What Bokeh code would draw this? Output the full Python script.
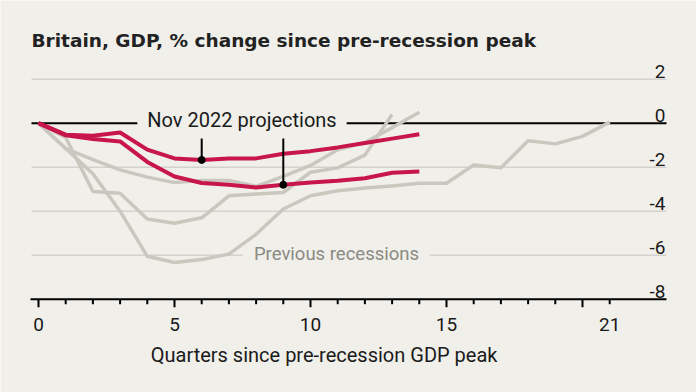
from bokeh.plotting import figure
from bokeh.models import Range1d, Label, ColumnDataSource
from bokeh.core.properties import value
from bokeh.embed import file_html
from bokeh.resources import INLINE

# ---- data ----
# Nov 2022 projections (two scenarios), quarters 0..14
proj_upper = [0, -0.52, -0.57, -0.42, -1.2, -1.6, -1.67, -1.6, -1.6, -1.39, -1.27, -1.1, -0.9, -0.7, -0.5]
proj_lower = [0, -0.55, -0.72, -0.83, -1.76, -2.42, -2.72, -2.8, -2.92, -2.8, -2.7, -2.62, -2.5, -2.25, -2.2]
# Previous recessions
rec_a = [0, -1.15, -2.3, -4.0, -6.05, -6.33, -6.2, -5.95, -5.05, -3.9, -3.3, -3.07,
         -2.95, -2.85, -2.73, -2.73, -1.9, -2.03, -0.8, -0.94, -0.6, 0.05]
rec_b = [0, -0.65, -3.1, -3.18, -4.35, -4.55, -4.3, -3.3, -3.22, -3.15, -2.23, -2.03, -1.45, 0.4]
rec_c = [0, -1.15, -1.66, -2.12, -2.45, -2.7, -2.6, -2.6, -2.87, -2.42, -1.92, -1.21, -0.88, -0.2, 0.5]

quarters = list(range(0, 22))
xtick_vals = [0, 5, 10, 15, 21]
xtick_labels = ["0", "5", "10", "15", "21"]
ytick_vals = [2, 0, -2, -4, -6, -8]
ytick_labels = ["2", "0", "-2", "-4", "-6", "-8"]
grid_vals = [2, -2, -4, -6]
y_floor = -8
marked = [(6, "upper"), (9, "lower")]

title_text = "Britain, GDP, % change since pre-recession peak"
xaxis_title = "Quarters since pre-recession GDP peak"
proj_label = "Nov 2022 projections"
rec_label = "Previous recessions"

# ---- style / layout ----
BG = "#f0efea"
RED = "#c8164a"
GREY = "#cac8be"
GRID = "#d3d2cd"
INK = "#1a1a1a"
FONT = "Roboto"
W, H = 696, 392
PX_X = 27.2   # pixels per quarter
PX_Y = 22.0   # pixels per percentage point
X0_PX = 38.0  # pixel of quarter 0
Y0_PX = 122.7 # pixel of 0%


def px2x(px):
    return (px - X0_PX) / PX_X


def px2y(py):
    return (Y0_PX - py) / PX_Y


p = figure(width=W, height=H, output_backend="svg", toolbar_location=None,
           x_range=Range1d(px2x(0), px2x(W)), y_range=Range1d(px2y(H), px2y(0)),
           x_axis_location=None, y_axis_location=None,
           min_border=0, min_border_left=0, min_border_right=0, min_border_top=0, min_border_bottom=0,
           background_fill_color=BG, border_fill_color=BG, outline_line_color=None)
p.xgrid.visible = False
p.ygrid.visible = False

left_x, right_x = px2x(31), px2x(666)

# gridlines, zero line and axis line (lowest level so the label boxes can mask them)
p.segment(x0=[left_x] * len(grid_vals), y0=grid_vals, x1=[right_x] * len(grid_vals), y1=grid_vals,
          line_color=GRID, line_width=1.5, level="image")
p.segment(x0=[left_x], y0=[0], x1=[right_x], y1=[0], line_color="black", line_width=2, level="image")
p.segment(x0=[px2x(30)], y0=[y_floor], x1=[right_x], y1=[y_floor], line_color="black", line_width=2, level="image")

# x ticks: long at multiples of 5, short otherwise
tick_len = [(8 if (q % 5 == 0 and q <= 20) else 5) / PX_Y for q in quarters]
p.segment(x0=quarters, y0=[y_floor] * len(quarters), x1=quarters, y1=[y_floor - L for L in tick_len],
          line_color="black", line_width=2, level="image")

# labels with background boxes that interrupt the lines
p.add_layout(Label(x=px2x(241.5), y=px2y(119.5), text=proj_label, text_align="center", text_baseline="middle",
                   text_font=FONT, text_font_size="20px", text_color=INK,
                   background_fill_color=BG, padding=10, level="underlay"))
p.add_layout(Label(x=px2x(336), y=px2y(253), text=rec_label, text_align="center", text_baseline="middle",
                   text_font=FONT, text_font_size="18.5px", text_color="#8b8a84",
                   background_fill_color=BG, padding=11, level="underlay"))

for series in (rec_a, rec_b, rec_c):
    p.line(list(range(len(series))), series, line_color=GREY, line_width=3.5, line_join="round")
for series in (proj_upper, proj_lower):
    p.line(list(range(len(series))), series, line_color=RED, line_width=4, line_join="round")

mx = [q for q, _ in marked]
my = [proj_upper[q] if which == "upper" else proj_lower[q] for q, which in marked]
p.segment(x0=mx, y0=[px2y(138)] * len(mx), x1=mx, y1=my, line_color="black", line_width=2)
p.scatter(mx, my, size=7, color="black")

# y tick labels (right edge, sitting just above the gridlines)
ysrc = ColumnDataSource(dict(x=[px2x(665)] * len(ytick_vals), y=[v + 8 / PX_Y for v in ytick_vals], t=ytick_labels))
p.text(x="x", y="y", text="t", source=ysrc, text_align="right", text_baseline="middle",
       text_font=value(FONT), text_font_size="19px", text_color=INK)

# x tick labels
xsrc = ColumnDataSource(dict(x=xtick_vals, y=[px2y(324)] * len(xtick_vals), t=xtick_labels))
p.text(x="x", y="y", text="t", source=xsrc, text_align="center", text_baseline="middle",
       text_font=value(FONT), text_font_size="19px", text_color=INK)

p.add_layout(Label(x=(xtick_vals[0] + xtick_vals[-1]) / 2, y=px2y(354), text=xaxis_title,
                   text_align="center", text_baseline="middle",
                   text_font=FONT, text_font_size="20px", text_color=INK))
p.add_layout(Label(x=px2x(31), y=px2y(40), text=title_text, text_align="left", text_baseline="middle",
                   text_font="DejaVu Sans", text_font_style="bold", text_font_size="18.5px", text_color="#222222"))

open("out.html", "w").write(file_html(p, INLINE))
